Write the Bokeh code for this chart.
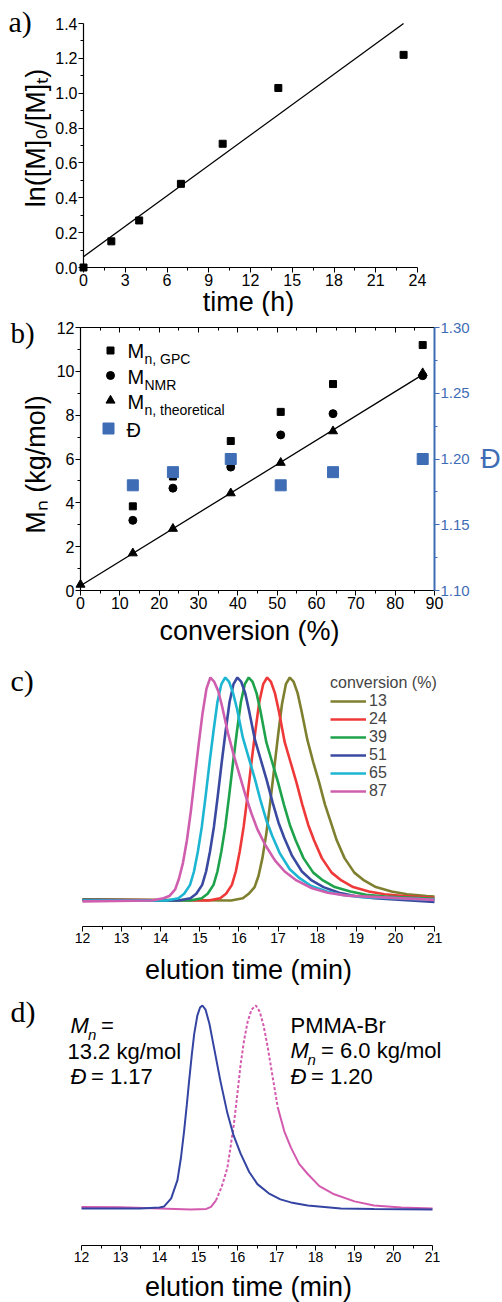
import math
from bokeh.plotting import figure
from bokeh.models import (Range1d, LinearAxis, Label, Legend, LegendItem, FixedTicker,
                          PrintfTickFormatter)
from bokeh.layouts import column
from bokeh.embed import file_html
from bokeh.resources import INLINE

# ---------------- data ----------------
# (a) first-order kinetics
time_h = [0, 2, 4, 7, 10, 14, 23]
ln_m0_mt = [0.00, 0.15, 0.27, 0.48, 0.71, 1.03, 1.22]
fit_time_h = [0, 23]
fit_ln = [0.062, 1.40]
time_ticks = [0, 3, 6, 9, 12, 15, 18, 21, 24]
time_minor = [1.5, 4.5, 7.5, 10.5, 13.5, 16.5, 19.5, 22.5]
ln_ticks = [0.0, 0.2, 0.4, 0.6, 0.8, 1.0, 1.2, 1.4]
ln_minor = [0.1, 0.3, 0.5, 0.7, 0.9, 1.1, 1.3]

# (b) molecular weight vs conversion
conv_pct = [13.3, 23.5, 38.2, 50.9, 64.2, 87.0]
mn_gpc = [3.84, 5.20, 6.82, 8.15, 9.42, 11.20]
mn_nmr = [3.20, 4.67, 5.63, 7.10, 8.07, 9.80]
conv_theo = [0, 13.3, 23.5, 38.2, 50.9, 64.2, 87.0]
mn_theo = [0.27, 1.70, 2.82, 4.44, 5.83, 7.27, 9.92]
dispersity = [1.18, 1.19, 1.20, 1.18, 1.19, 1.20]
fit_conv = [0, 87]
fit_mn = [0.22, 9.85]
conv_ticks = [0, 10, 20, 30, 40, 50, 60, 70, 80, 90]
conv_minor = [5, 15, 25, 35, 45, 55, 65, 75, 85]
mn_ticks = [0, 2, 4, 6, 8, 10, 12]
mn_minor = [1, 3, 5, 7, 9, 11]
disp_ticks = [1.10, 1.15, 1.20, 1.25, 1.30]
disp_minor = [1.125, 1.175, 1.225, 1.275]

# (c) GPC traces at different conversions (normalised RI signal)
c_labels = ["13", "24", "39", "51", "65", "87"]
c_colors = ["#7f7f30", "#ef3838", "#1ea34c", "#3a4aa0", "#1cb6d2", "#cf5fae"]
t13 = [12.0, 15.8, 16.1, 16.25, 16.4, 16.5, 16.6, 16.7, 16.8, 16.9, 17.0, 17.1, 17.2, 17.3, 17.4, 17.5, 17.6,
       17.75, 17.9, 18.05, 18.2, 18.35, 18.5, 18.7, 18.95, 19.2, 19.5, 19.9, 20.3, 20.8, 21.0]
s13 = [0.005, 0.0, 0.01, 0.03, 0.06, 0.11, 0.19, 0.30, 0.44, 0.59, 0.74, 0.88, 0.97, 1.0, 0.98, 0.93, 0.85,
       0.72, 0.62, 0.53, 0.43, 0.35, 0.27, 0.19, 0.125, 0.09, 0.06, 0.04, 0.028, 0.02, 0.018]
t24 = [12.0, 15.22, 15.52, 15.67, 15.82, 15.92, 16.02, 16.12, 16.22, 16.32, 16.42, 16.52, 16.62, 16.72, 16.82,
       16.92, 17.02, 17.17, 17.32, 17.47, 17.62, 17.77, 17.92, 18.12, 18.37, 18.62, 18.92, 19.32, 19.72, 20.22, 21.0]
s24 = [0.004, 0.0, 0.01, 0.03, 0.07, 0.13, 0.22, 0.33, 0.47, 0.62, 0.76, 0.89, 0.97, 1.0, 0.98, 0.93, 0.85,
       0.71, 0.62, 0.53, 0.43, 0.34, 0.27, 0.19, 0.125, 0.09, 0.06, 0.04, 0.028, 0.02, 0.012]
t39 = [12.0, 14.75, 15.05, 15.2, 15.35, 15.45, 15.55, 15.65, 15.75, 15.85, 15.95, 16.05, 16.15, 16.25, 16.35,
       16.45, 16.55, 16.7, 16.85, 17.0, 17.15, 17.3, 17.45, 17.65, 17.9, 18.15, 18.45, 18.85, 19.25, 19.75, 21.0]
s39 = [0.003, 0.0, 0.01, 0.03, 0.07, 0.13, 0.22, 0.33, 0.47, 0.62, 0.76, 0.89, 0.97, 1.0, 0.98, 0.93, 0.85,
       0.71, 0.62, 0.53, 0.43, 0.34, 0.27, 0.19, 0.125, 0.09, 0.06, 0.04, 0.026, 0.018, 0.008]
t51 = [12.0, 14.46, 14.76, 14.91, 15.06, 15.16, 15.26, 15.36, 15.46, 15.56, 15.66, 15.76, 15.86, 15.96, 16.06,
       16.16, 16.26, 16.41, 16.56, 16.71, 16.86, 17.01, 17.16, 17.36, 17.61, 17.86, 18.16, 18.56, 18.96, 19.46, 21.0]
s51 = [0.002, 0.0, 0.01, 0.03, 0.07, 0.13, 0.22, 0.33, 0.47, 0.62, 0.76, 0.89, 0.97, 1.0, 0.98, 0.93, 0.85,
       0.72, 0.63, 0.54, 0.44, 0.35, 0.28, 0.20, 0.13, 0.09, 0.06, 0.035, 0.02, 0.01, -0.006]
t65 = [12.0, 14.15, 14.45, 14.6, 14.75, 14.85, 14.95, 15.05, 15.15, 15.25, 15.35, 15.45, 15.55, 15.65, 15.75,
       15.85, 15.95, 16.1, 16.25, 16.4, 16.55, 16.7, 16.85, 17.05, 17.3, 17.55, 17.85, 18.25, 18.65, 19.15, 21.0]
s65 = [0.0, 0.0, 0.01, 0.03, 0.07, 0.13, 0.22, 0.33, 0.47, 0.62, 0.76, 0.89, 0.97, 1.0, 0.98, 0.93, 0.86,
       0.73, 0.64, 0.55, 0.45, 0.36, 0.29, 0.21, 0.14, 0.10, 0.065, 0.04, 0.025, 0.015, 0.004]
t87 = [12.0, 13.77, 14.07, 14.22, 14.37, 14.47, 14.57, 14.67, 14.77, 14.87, 14.97, 15.07, 15.17, 15.27, 15.37,
       15.47, 15.57, 15.72, 15.87, 16.02, 16.17, 16.32, 16.47, 16.67, 16.92, 17.17, 17.47, 17.87, 18.27, 18.77, 21.0]
s87 = [-0.004, 0.0, 0.01, 0.02, 0.05, 0.10, 0.17, 0.27, 0.40, 0.55, 0.70, 0.84, 0.95, 1.0, 0.98, 0.94, 0.87,
       0.75, 0.65, 0.56, 0.47, 0.39, 0.32, 0.25, 0.18, 0.13, 0.09, 0.055, 0.035, 0.022, 0.003]
c_times = [t13, t24, t39, t51, t65, t87]
c_signals = [s13, s24, s39, s51, s65, s87]
elution_ticks = [12, 13, 14, 15, 16, 17, 18, 19, 20, 21]
elution_minor = [12.5, 13.5, 14.5, 15.5, 16.5, 17.5, 18.5, 19.5, 20.5]

# (d) chain extension: product (blue) and PMMA-Br macroinitiator (magenta)
t_prod = [12.0, 13.5, 14.0, 14.12, 14.3, 14.46, 14.55, 14.63, 14.7, 14.76, 14.83, 14.89, 14.97, 15.04, 15.1,
          15.18, 15.28, 15.4, 15.56, 15.74, 15.9, 16.08, 16.3, 16.51, 16.8, 17.1, 17.37, 17.8, 18.65, 19.5, 21.0]
s_prod = [0.0, 0.0, 0.005, 0.01, 0.05, 0.14, 0.25, 0.38, 0.51, 0.63, 0.76, 0.86, 0.95, 0.99, 1.0,
          0.98, 0.91, 0.79, 0.63, 0.47, 0.36, 0.27, 0.18, 0.12, 0.075, 0.045, 0.03, 0.015, 0.0, -0.002, -0.005]
t_macro_a = [12.0, 13.0, 14.0, 14.8, 15.2, 15.32, 15.45]
s_macro_a = [0.008, 0.006, 0.0, -0.005, -0.002, 0.008, 0.04]
t_macro_b = [15.45, 15.6, 15.74, 15.82, 15.91, 16.0, 16.08, 16.17, 16.26, 16.36, 16.47, 16.57, 16.67, 16.77,
             16.9, 17.03]
s_macro_b = [0.04, 0.11, 0.20, 0.30, 0.42, 0.57, 0.71, 0.83, 0.92, 0.98, 1.0, 0.97, 0.90, 0.80, 0.65, 0.50]
t_macro_c = [17.03, 17.2, 17.37, 17.58, 17.8, 18.1, 18.48, 19.0, 19.5, 20.2, 21.0]
s_macro_c = [0.50, 0.38, 0.30, 0.22, 0.17, 0.11, 0.07, 0.035, 0.015, 0.005, 0.0]

# ---------------- layout (page pixels) ----------------
W = 502
SANS = "Liberation Sans"
SERIF = "Liberation Serif"
DISP_BLUE = "#3f6db5"


def axis_map(d0, d1, p0, p1, lo, hi):
    """range (value at pixel lo, value at pixel hi) given data d0->pixel p0, d1->pixel p1"""
    s = (d1 - d0) / (p1 - p0)
    return (d0 + (lo - p0) * s, d0 + (hi - p0) * s)


class Panel:
    def __init__(self, top, h, xmap, ymap):
        self.top, self.h = top, h
        self.xr = axis_map(*xmap, 0, W)
        self.yr = axis_map(*ymap, top + h, top)
        self.p = figure(width=W, height=h, x_range=Range1d(*self.xr), y_range=Range1d(*self.yr),
                        output_backend="svg", toolbar_location=None,
                        x_axis_location=None, y_axis_location=None,
                        min_border_left=0, min_border_right=0, min_border_top=0, min_border_bottom=0)
        self.p.outline_line_color = None
        self.p.grid.visible = False

    def dx(self, wx):
        return self.xr[0] + wx / W * (self.xr[1] - self.xr[0])

    def dy(self, wy):
        return self.yr[1] - (wy - self.top) / self.h * (self.yr[1] - self.yr[0])

    def text(self, wx, wy, txt, size, font=SANS, style="normal", color="black", align="left", angle=0.0):
        # (wx, wy) is the desired baseline point; anchor the text box by its middle
        k = 0.3465 * size
        ax, ay = wx - math.sin(angle) * k, wy - math.cos(angle) * k
        self.p.add_layout(Label(x=self.dx(ax), y=self.dy(ay), text=txt, text_font=font,
                                text_font_size=f"{size}px", text_font_style=style, text_color=color,
                                text_align=align, text_baseline="middle", angle=angle))


def axis(ticks, minor, size, loc, bounds, color="black", fmt=None, **kw):
    ax = LinearAxis(fixed_location=loc, bounds=bounds, **kw)
    ax.ticker = FixedTicker(ticks=ticks, minor_ticks=minor)
    if fmt:
        ax.formatter = PrintfTickFormatter(format=fmt)
    ax.axis_line_color = color
    ax.axis_line_width = 1.2
    ax.major_tick_line_color = color
    ax.minor_tick_line_color = color
    ax.major_tick_out = 5
    ax.major_tick_in = 0
    ax.minor_tick_out = 3
    ax.minor_tick_in = 0
    ax.major_label_text_font = SANS
    ax.major_label_text_font_size = f"{size}px"
    ax.major_label_text_color = color
    ax.major_label_standoff = 1
    return ax


# ---------------- (a) ----------------
A = Panel(0, 316, (0, 24, 83, 417), (0, 1.4, 267, 23))
pa = A.p
pa.add_layout(axis(time_ticks, time_minor, 16, 0, (0, 24)), "below")
pa.add_layout(axis(ln_ticks, ln_minor, 16, 0, (0, 1.4), fmt="%.1f"), "left")
pa.line(fit_time_h, fit_ln, line_color="black", line_width=1.3)
pa.scatter(time_h, ln_m0_mt, marker="square", size=7, color="black")
A.text(248, 310.5, "time (h)", 27, align="center")
A.text(44.5, 137.5, "ln([M]\u2080/[M]\u209c)", 27, align="center", angle=math.pi / 2)
A.text(8, 31, "a)", 30, font=SERIF)

# ---------------- (b) ----------------
B = Panel(316, 332, (0, 90, 80, 434), (0, 12, 590, 327))
pb = B.p
pb.extra_y_ranges = {"disp": Range1d(*axis_map(1.10, 1.30, 590, 327, 648, 316))}
pb.add_layout(axis(conv_ticks, conv_minor, 16, 0, (0, 90)), "below")
pb.add_layout(axis(mn_ticks, mn_minor, 16, 0, (0, 12)), "left")
top_ax = axis(conv_ticks, conv_minor, 16, 12, (0, 90))
top_ax.major_label_text_color = None
top_ax.major_tick_out, top_ax.major_tick_in = 0, 5
top_ax.minor_tick_out, top_ax.minor_tick_in = 0, 3
pb.add_layout(top_ax, "above")
right_ax = axis(disp_ticks, disp_minor, 15, 90, (1.10, 1.30), color=DISP_BLUE, fmt="%.2f",
                y_range_name="disp")
right_ax.axis_line_width = 2
pb.add_layout(right_ax, "right")

pb.line(fit_conv, fit_mn, line_color="black", line_width=1.3)
pb.scatter(conv_theo, mn_theo, marker="triangle", size=9, color="black")
pb.scatter(conv_pct, mn_gpc, marker="square", size=7, color="black")
pb.scatter(conv_pct, mn_nmr, marker="circle", size=8, color="black")
pb.scatter(conv_pct, dispersity, marker="square", size=11, color=DISP_BLUE, y_range_name="disp")

B.text(249, 640, "conversion (%)", 27, align="center")
B.text(44.5, 464, "M\u2099 (kg/mol)", 27, align="center", angle=math.pi / 2)
B.text(480, 468, "\u0110", 28, color=DISP_BLUE)
# legend of (b)
leg_b = [((110, 350), "square", 7, "black"), ((110, 375), "circle", 8, "black"),
         ((110, 400), "triangle", 9, "black"), ((108, 428), "square", 11, DISP_BLUE)]
for (wx, wy), mk, sz, col in leg_b:
    pb.scatter([B.dx(wx)], [B.dy(wy)], marker=mk, size=sz, color=col)
B.text(127, 357, "M", 20)
B.text(144, 363, "n, GPC", 14)
B.text(127, 383, "M", 20)
B.text(144, 389, "NMR", 14)
B.text(127, 408, "M", 20)
B.text(144, 414, "n, theoretical", 14)
B.text(126, 436, "\u0110", 20)
B.text(10, 342.5, "b)", 29, font=SERIF)

# ---------------- (c) ----------------
C = Panel(648, 337, (12, 21, 82, 434), (0, 1, 900, 677))
pc = C.p
pc.add_layout(axis(elution_ticks, elution_minor, 14, C.dy(926), (12, 21)), "below")
items = []
for lab, col, tt, ss in zip(c_labels, c_colors, c_times, c_signals):
    r = pc.line(tt, ss, line_color=col, line_width=2.6)
    items.append(LegendItem(label=lab, renderers=[r]))
legend_c = Legend(items=items, title="conversion (%)", location=(330, 985 - 800),
                  title_text_font=SANS, title_text_font_size="16px", title_text_font_style="normal",
                  title_standoff=0, label_text_font=SANS, label_text_font_size="16px",
                  glyph_width=36, glyph_height=18, label_height=18, label_standoff=3, spacing=0,
                  padding=0, margin=0, border_line_color=None, background_fill_alpha=0)
pc.add_layout(legend_c)
C.text(248, 979, "elution time (min)", 27, align="center")
C.text(10, 690, "c)", 30, font=SERIF)

# ---------------- (d) ----------------
D = Panel(985, 317, (12, 21, 81, 432), (0, 1, 1208, 1005))
pd = D.p
pd.add_layout(axis(elution_ticks, elution_minor, 14, D.dy(1245), (12, 21)), "below")
MAG = "#d35aae"
pd.line(t_macro_a, s_macro_a, line_color=MAG, line_width=2)
pd.line(t_macro_b, s_macro_b, line_color=MAG, line_width=2, line_dash="3 2")
pd.line(t_macro_c, s_macro_c, line_color=MAG, line_width=2)
pd.line(t_prod, s_prod, line_color="#3444a2", line_width=2)

D.text(248, 1296, "elution time (min)", 27, align="center")
D.text(70, 1033, "M", 22, style="italic")
D.text(87.5, 1039, "n", 15, style="italic")
D.text(100.5, 1033, "=", 22)
D.text(67, 1059, "13.2 kg/mol", 22)
D.text(70, 1084, "\u0110", 22, style="italic")
D.text(90.5, 1084, "= 1.17", 22)
D.text(290, 1033, "PMMA-Br", 22)
D.text(290, 1058, "M", 22, style="italic")
D.text(307, 1064, "n", 15, style="italic")
D.text(320.5, 1058, "= 6.0 kg/mol", 22)
D.text(290, 1084, "\u0110", 22, style="italic")
D.text(310.5, 1084, "= 1.20", 22)
D.text(10, 1021, "d)", 30, font=SERIF)

page = column(pa, pb, pc, pd, spacing=0)
open("out.html", "w").write(file_html(page, INLINE))
